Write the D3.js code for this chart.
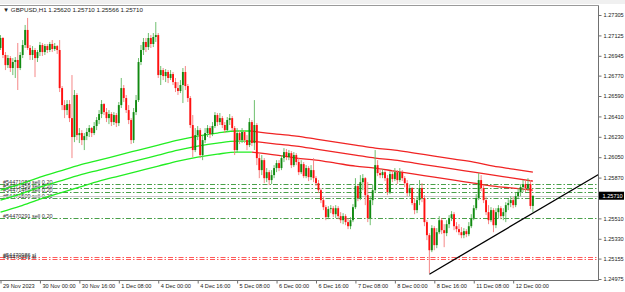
<!DOCTYPE html>
<html>
<head>
<meta charset="utf-8">
<script src="https://cdn.jsdelivr.net/npm/d3@7"></script>
<style>
  body { margin: 0; background: #fff; }
  svg text { font-family: "Liberation Sans", Arial, sans-serif; }
</style>
</head>
<body>
<svg id="chart" width="625" height="292"></svg>
<script>
// GBPUSD H1, 29 Nov 2023 08:00 .. 12 Dec 2023 08:00 (bar index 0..216)
var opens = [1.27014,1.27102,1.26952,1.26863,1.26925,1.26837,1.26890,1.26908,1.26837,1.26952,1.27040,1.27173,1.27014,1.26952,1.26996,1.26925,1.26978,1.27040,1.26978,1.27031,1.26996,1.27049,1.27005,1.27031,1.26996,1.26660,1.26510,1.26466,1.26519,1.26395,1.26228,1.26599,1.26245,1.26263,1.26201,1.26236,1.26272,1.26307,1.26263,1.26325,1.26378,1.26431,1.26519,1.26448,1.26395,1.26431,1.26360,1.26422,1.26351,1.26510,1.26660,1.26572,1.26466,1.26378,1.26201,1.26448,1.26554,1.26890,1.26996,1.27067,1.27022,1.27102,1.27049,1.27111,1.27128,1.26775,1.26819,1.26766,1.26802,1.26749,1.26784,1.26713,1.26660,1.26634,1.26687,1.26802,1.26678,1.26572,1.26334,1.26113,1.26245,1.26289,1.26069,1.26201,1.26263,1.26307,1.26254,1.26325,1.26422,1.26360,1.26395,1.26334,1.26289,1.26378,1.26395,1.26307,1.26113,1.26263,1.26201,1.26272,1.26201,1.26157,1.26360,1.26175,1.26334,1.26042,1.25936,1.26024,1.25865,1.25918,1.25848,1.25892,1.25954,1.25998,1.25954,1.26042,1.26095,1.26051,1.26086,1.25980,1.26069,1.26007,1.25918,1.25989,1.25883,1.25954,1.25874,1.25936,1.25865,1.25821,1.25759,1.25671,1.25609,1.25521,1.25592,1.25600,1.25547,1.25600,1.25530,1.25494,1.25530,1.25477,1.25441,1.25494,1.25609,1.25795,1.25689,1.25830,1.25865,1.25715,1.25512,1.25671,1.25759,1.25980,1.25910,1.25892,1.25918,1.25865,1.25742,1.25901,1.25857,1.25918,1.25848,1.25918,1.25865,1.25821,1.25733,1.25777,1.25645,1.25583,1.25671,1.25777,1.25689,1.25477,1.25362,1.25229,1.25424,1.25274,1.25388,1.25494,1.25406,1.25380,1.25459,1.25512,1.25547,1.25441,1.25415,1.25388,1.25362,1.25397,1.25371,1.25441,1.25512,1.25600,1.25689,1.25848,1.25777,1.25671,1.25565,1.25494,1.25583,1.25450,1.25565,1.25600,1.25530,1.25565,1.25627,1.25645,1.25671,1.25627,1.25706,1.25742,1.25786,1.25812,1.25777,1.25812,1.25620];
var highs = [1.27128,1.27111,1.26978,1.26952,1.26943,1.26925,1.26934,1.27058,1.26978,1.27084,1.27217,1.27279,1.27040,1.27031,1.27014,1.26996,1.27067,1.27058,1.27049,1.27049,1.27067,1.27084,1.27058,1.27040,1.27084,1.26678,1.26554,1.26554,1.26554,1.26775,1.26643,1.26616,1.26307,1.26289,1.26263,1.26307,1.26334,1.26316,1.26360,1.26404,1.26466,1.26554,1.26528,1.26484,1.26466,1.26448,1.26448,1.26440,1.26537,1.26749,1.26687,1.26599,1.26510,1.26395,1.26484,1.26599,1.26925,1.27040,1.27102,1.27102,1.27146,1.27128,1.27146,1.27243,1.27146,1.26855,1.26837,1.26828,1.26819,1.26819,1.26802,1.26749,1.26713,1.26731,1.26837,1.26855,1.26696,1.26590,1.26422,1.26307,1.26325,1.26307,1.26245,1.26307,1.26334,1.26325,1.26360,1.26448,1.26440,1.26440,1.26413,1.26360,1.26404,1.26431,1.26413,1.26325,1.26307,1.26289,1.26307,1.26289,1.26245,1.26395,1.26378,1.26554,1.26351,1.26095,1.26069,1.26042,1.25954,1.25936,1.25936,1.25980,1.26024,1.26024,1.26069,1.26130,1.26122,1.26113,1.26104,1.26095,1.26086,1.26042,1.26024,1.26007,1.25980,1.25971,1.25980,1.26042,1.25883,1.25848,1.25777,1.25698,1.25627,1.25618,1.25627,1.25618,1.25627,1.25618,1.25565,1.25556,1.25547,1.25512,1.25521,1.25636,1.25865,1.25812,1.25892,1.25901,1.25874,1.25830,1.25706,1.25804,1.26113,1.26024,1.25954,1.25945,1.25936,1.25892,1.25927,1.25936,1.25954,1.25936,1.25954,1.25936,1.25883,1.25848,1.25804,1.25786,1.25689,1.25706,1.25848,1.25821,1.25715,1.25494,1.25380,1.25450,1.25441,1.25424,1.25530,1.25512,1.25459,1.25494,1.25539,1.25574,1.25565,1.25477,1.25459,1.25433,1.25424,1.25415,1.25477,1.25547,1.25627,1.25724,1.25910,1.25892,1.25804,1.25698,1.25627,1.25609,1.25600,1.25600,1.25627,1.25618,1.25600,1.25653,1.25680,1.25706,1.25698,1.25733,1.25777,1.25812,1.25848,1.25848,1.25865,1.25848,1.25710];
var lows = [1.26996,1.26925,1.26819,1.26837,1.26802,1.26775,1.26749,1.26643,1.26819,1.26925,1.27014,1.26996,1.26908,1.26908,1.26757,1.26890,1.26943,1.26943,1.26952,1.26969,1.26978,1.26978,1.26987,1.26961,1.26625,1.26466,1.26395,1.26422,1.26360,1.26042,1.26183,1.26201,1.26175,1.26157,1.26113,1.26201,1.26228,1.26228,1.26245,1.26289,1.26342,1.26395,1.26422,1.26360,1.26342,1.26325,1.26334,1.26316,1.26325,1.26484,1.26537,1.26440,1.26342,1.26166,1.26175,1.26422,1.26537,1.26863,1.26952,1.26978,1.26996,1.27014,1.27022,1.27067,1.26749,1.26687,1.26731,1.26713,1.26704,1.26731,1.26687,1.26625,1.26599,1.26616,1.26528,1.26643,1.26537,1.26307,1.26051,1.26095,1.26201,1.26042,1.26024,1.26175,1.26228,1.26219,1.26236,1.26307,1.26325,1.26334,1.26307,1.26263,1.26272,1.26334,1.26281,1.26069,1.26095,1.26166,1.26175,1.26175,1.26113,1.26139,1.26148,1.26113,1.25980,1.25865,1.25892,1.25821,1.25830,1.25804,1.25812,1.25865,1.25918,1.25927,1.25936,1.26007,1.26024,1.26024,1.25954,1.25963,1.25980,1.25892,1.25901,1.25865,1.25865,1.25839,1.25848,1.25830,1.25795,1.25733,1.25645,1.25583,1.25494,1.25503,1.25556,1.25521,1.25512,1.25503,1.25468,1.25459,1.25450,1.25415,1.25415,1.25477,1.25592,1.25662,1.25671,1.25759,1.25627,1.25477,1.25450,1.25627,1.25742,1.25883,1.25865,1.25865,1.25839,1.25715,1.25724,1.25830,1.25839,1.25812,1.25830,1.25839,1.25786,1.25706,1.25706,1.25627,1.25547,1.25556,1.25627,1.25653,1.25441,1.25318,1.25026,1.25212,1.25229,1.25247,1.25371,1.25371,1.25256,1.25353,1.25424,1.25486,1.25406,1.25388,1.25362,1.25335,1.25335,1.25344,1.25353,1.25424,1.25494,1.25583,1.25671,1.25751,1.25645,1.25539,1.25459,1.25477,1.25388,1.25424,1.25512,1.25503,1.25494,1.25477,1.25583,1.25609,1.25600,1.25609,1.25680,1.25706,1.25742,1.25742,1.25751,1.25592,1.25566];
var closes = [1.27102,1.26952,1.26863,1.26925,1.26837,1.26890,1.26908,1.26837,1.26952,1.27040,1.27173,1.27014,1.26952,1.26996,1.26925,1.26978,1.27040,1.26978,1.27031,1.26996,1.27049,1.27005,1.27031,1.26996,1.26660,1.26510,1.26466,1.26519,1.26395,1.26228,1.26599,1.26245,1.26263,1.26201,1.26236,1.26272,1.26307,1.26263,1.26325,1.26378,1.26431,1.26519,1.26448,1.26395,1.26431,1.26360,1.26422,1.26351,1.26510,1.26660,1.26572,1.26466,1.26378,1.26201,1.26448,1.26554,1.26890,1.26996,1.27067,1.27022,1.27102,1.27049,1.27111,1.27128,1.26775,1.26819,1.26766,1.26802,1.26749,1.26784,1.26713,1.26660,1.26634,1.26687,1.26802,1.26678,1.26572,1.26334,1.26113,1.26245,1.26289,1.26069,1.26201,1.26263,1.26307,1.26254,1.26325,1.26422,1.26360,1.26395,1.26334,1.26289,1.26378,1.26395,1.26307,1.26113,1.26263,1.26201,1.26272,1.26201,1.26157,1.26360,1.26175,1.26334,1.26042,1.25936,1.26024,1.25865,1.25918,1.25848,1.25892,1.25954,1.25998,1.25954,1.26042,1.26095,1.26051,1.26086,1.25980,1.26069,1.26007,1.25918,1.25989,1.25883,1.25954,1.25874,1.25936,1.25865,1.25821,1.25759,1.25671,1.25609,1.25521,1.25592,1.25600,1.25547,1.25600,1.25530,1.25494,1.25530,1.25477,1.25441,1.25494,1.25609,1.25795,1.25689,1.25830,1.25865,1.25715,1.25512,1.25671,1.25759,1.25980,1.25910,1.25892,1.25918,1.25865,1.25742,1.25901,1.25857,1.25918,1.25848,1.25918,1.25865,1.25821,1.25733,1.25777,1.25645,1.25583,1.25671,1.25777,1.25689,1.25477,1.25362,1.25229,1.25424,1.25274,1.25388,1.25494,1.25406,1.25380,1.25459,1.25512,1.25547,1.25441,1.25415,1.25388,1.25362,1.25397,1.25371,1.25441,1.25512,1.25600,1.25689,1.25848,1.25777,1.25671,1.25565,1.25494,1.25583,1.25450,1.25565,1.25600,1.25530,1.25565,1.25627,1.25645,1.25671,1.25627,1.25706,1.25742,1.25786,1.25812,1.25777,1.25812,1.25620,1.25710];

// moving-average envelope, sampled at bar indices
var maIdx = [0,8,16,24,32,40,48,56,64,72,80,88,96,102,112,120,128,136,144,152,160,168,176,184,192,200,208,216];
var maUpper = [1.25759,1.25812,1.25874,1.25927,1.25980,1.26024,1.26069,1.26113,1.26157,1.26201,1.26236,1.26263,1.26281,1.26281,1.26254,1.26236,1.26210,1.26183,1.26157,1.26130,1.26113,1.26086,1.26060,1.26033,1.26007,1.25971,1.25945,1.25918];
var maMiddle = [1.25671,1.25724,1.25786,1.25839,1.25892,1.25936,1.25980,1.26024,1.26069,1.26113,1.26148,1.26175,1.26192,1.26192,1.26166,1.26148,1.26122,1.26095,1.26069,1.26042,1.26024,1.25998,1.25971,1.25945,1.25918,1.25892,1.25865,1.25839];
var maLower = [1.25565,1.25618,1.25680,1.25733,1.25786,1.25839,1.25883,1.25927,1.25971,1.26016,1.26051,1.26077,1.26095,1.26095,1.26069,1.26042,1.26024,1.25998,1.25971,1.25954,1.25927,1.25901,1.25874,1.25848,1.25821,1.25795,1.25777,1.25759];
var maTurn = 102;   // rising (green) up to here, falling (red) after

var priceTicks = [1.27305,1.27125,1.26945,1.26770,1.26590,1.26410,1.26230,1.26050,1.25870,1.25510,1.25330,1.25155,1.24975];
var timeIdx = [0,16,32,48,64,80,96,112,128,144,160,176,192,208];
var timeLabels = ["29 Nov 2023","30 Nov 00:00","30 Nov 16:00","1 Dec 08:00","4 Dec 00:00","4 Dec 16:00","5 Dec 08:00","6 Dec 00:00","6 Dec 16:00","7 Dec 08:00","8 Dec 00:00","8 Dec 16:00","11 Dec 08:00","12 Dec 00:00"];

var orderPrices = [1.25812,1.25777,1.25742,1.25689,1.25512];
var orderLabels = ["#54471083 sell 0.20","#54471459 sell 0.20","#54471469 sell 0.20","#54471509 sell 0.20","#54470291 sell 0.20"];
var slPrices = [1.25168,1.25150];
var slLabels = ["#54470986 sl","#54470291 sl"];

var trendIdx = [174, 216];
var trendPrice = [1.25017, 1.25556];

var svg = d3.select("#chart");
var plotRight = 598.5, plotTop = 5.5, plotBottom = 280.5;

var x = d3.scaleLinear().domain([0, 216]).range([0.5, 532.9]);
var y = d3.scaleLinear().domain([1.24975, 1.27305]).range([279, 15]);

svg.append("rect").attr("x", 0).attr("y", 0).attr("width", 625).attr("height", 292).attr("fill", "#fff");
svg.append("rect").attr("x", 0).attr("y", 0).attr("width", 625).attr("height", 4).attr("fill", "#f0f0f0");

var clip = svg.append("defs").append("clipPath").attr("id", "plot")
  .append("rect").attr("x", 0).attr("y", plotTop).attr("width", plotRight).attr("height", plotBottom - plotTop);

var plot = svg.append("g").attr("clip-path", "url(#plot)");

// order lines
function dashLines(prices, labels, color) {
  var g = plot.append("g");
  g.selectAll("line").data(prices).enter().append("line")
    .attr("x1", 0).attr("x2", plotRight)
    .attr("y1", function(d) { return Math.round(y(d)) + 0.5; })
    .attr("y2", function(d) { return Math.round(y(d)) + 0.5; })
    .attr("stroke", color).attr("stroke-width", 1)
    .attr("stroke-dasharray", "5,2,1.5,2");
  g.selectAll("text").data(labels).enter().append("text")
    .attr("x", 3)
    .attr("y", function(d, i) { return Math.round(y(prices[i])) - 0.5; })
    .attr("font-size", 5.5).attr("fill", "#333")
    .text(function(d) { return d; });
}
dashLines(orderPrices, orderLabels, "#4aa04a");
dashLines(slPrices, slLabels, "#ff5a5a");

// bid line
var last = closes.length - 1;
plot.append("line")
  .attr("x1", 0).attr("x2", plotRight)
  .attr("y1", Math.round(y(closes[last])) + 0.5).attr("y2", Math.round(y(closes[last])) + 0.5)
  .attr("stroke", "#c8c8c8").attr("stroke-width", 1);

// moving averages
var maLine = d3.line()
  .x(function(d) { return x(d.i); })
  .y(function(d) { return y(d.v); })
  .curve(d3.curveMonotoneX);

[maUpper, maMiddle, maLower].forEach(function(ser) {
  var pts = maIdx.map(function(d, k) { return {i: d, v: ser[k]}; });
  plot.append("path").datum(pts.filter(function(p) { return p.i <= maTurn; }))
    .attr("d", maLine).attr("fill", "none").attr("stroke", "#22ee22").attr("stroke-width", 1.3);
  plot.append("path").datum(pts.filter(function(p) { return p.i >= maTurn; }))
    .attr("d", maLine).attr("fill", "none").attr("stroke", "#f02424").attr("stroke-width", 1.3);
});

// candles
var bars = d3.range(closes.length);
var cg = plot.append("g");
cg.selectAll("line.wick").data(bars).enter().append("line")
  .attr("class", "wick")
  .attr("x1", function(i) { return x(i); }).attr("x2", function(i) { return x(i); })
  .attr("y1", function(i) { return y(highs[i]); })
  .attr("y2", function(i) { return y(lows[i]); })
  .attr("stroke", function(i) { return closes[i] >= opens[i] ? "#5fb85f" : "#f47a7a"; })
  .attr("stroke-width", 0.9);
cg.selectAll("rect.body").data(bars).enter().append("rect")
  .attr("class", "body")
  .attr("x", function(i) { return x(i) - 0.95; })
  .attr("width", 1.9)
  .attr("y", function(i) { return y(Math.max(opens[i], closes[i])); })
  .attr("height", function(i) { return Math.max(0.7, Math.abs(y(opens[i]) - y(closes[i]))); })
  .attr("fill", function(i) { return closes[i] >= opens[i] ? "#118a11" : "#ff1010"; });

// trend line (ray to the right)
var slope = (trendPrice[1] - trendPrice[0]) / (trendIdx[1] - trendIdx[0]);
var endIdx = x.invert(plotRight);
plot.append("line")
  .attr("x1", x(trendIdx[0])).attr("y1", y(trendPrice[0]))
  .attr("x2", x(endIdx)).attr("y2", y(trendPrice[0] + slope * (endIdx - trendIdx[0])))
  .attr("stroke", "#000").attr("stroke-width", 1.3);

// frame
svg.append("line").attr("x1", 0).attr("x2", plotRight).attr("y1", plotTop).attr("y2", plotTop).attr("stroke", "#9a9a9a");
svg.append("line").attr("x1", plotRight).attr("x2", plotRight).attr("y1", plotTop).attr("y2", plotBottom).attr("stroke", "#707070");
svg.append("line").attr("x1", 0).attr("x2", plotRight).attr("y1", plotBottom).attr("y2", plotBottom).attr("stroke", "#707070");

// price axis
var yAxis = d3.axisRight(y).tickValues(priceTicks).tickFormat(d3.format(".5f")).tickSize(3).tickPadding(2);
var ya = svg.append("g").attr("transform", "translate(" + plotRight + ",0)").call(yAxis);
ya.select(".domain").remove();
ya.selectAll("line").attr("stroke", "#707070");
ya.selectAll("text").attr("font-size", 5.6).attr("fill", "#222").attr("font-family", null);

// current price label
var cy = y(closes[last]);
svg.append("rect").attr("x", plotRight + 0.5).attr("y", cy - 4).attr("width", 25).attr("height", 8).attr("fill", "#000");
svg.append("text").attr("x", plotRight + 4).attr("y", cy + 2).attr("font-size", 5.6).attr("fill", "#fff")
  .text(d3.format(".5f")(closes[last]));

// time axis
var xAxis = d3.axisBottom(x).tickValues(timeIdx)
  .tickFormat(function(d, i) { return timeLabels[i]; }).tickSize(3);
var xa = svg.append("g").attr("transform", "translate(0," + plotBottom + ")").call(xAxis);
xa.select(".domain").remove();
xa.selectAll("line").attr("stroke", "#707070");
xa.selectAll("text").attr("font-size", 5.6).attr("fill", "#222").attr("font-family", null)
  .attr("text-anchor", "start").attr("dx", 2).attr("y", 3).attr("dy", "0.75em");

// title
var fmt = d3.format(".5f");
svg.append("text").attr("x", 3).attr("y", 12).attr("font-size", 6.2).attr("fill", "#222")
  .text("\u25BC GBPUSD,H1  " + fmt(opens[last]) + " " + fmt(highs[last]) + " " + fmt(lows[last]) + " " + fmt(closes[last]));
</script>
</body>
</html>
